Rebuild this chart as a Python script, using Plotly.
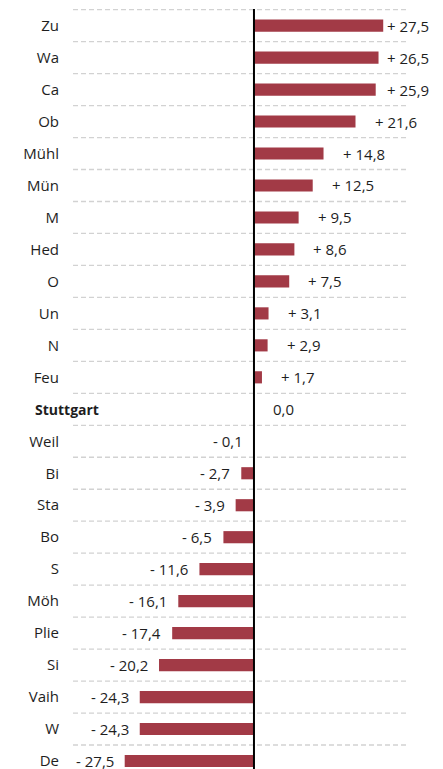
import plotly.graph_objects as go

# Districts, ordered top to bottom, and their change values
districts = ["Zu", "Wa", "Ca", "Ob", "Mühl", "Mün", "M", "Hed", "O", "Un", "N", "Feu",
             "Stuttgart",
             "Weil", "Bi", "Sta", "Bo", "S", "Möh", "Plie", "Si", "Vaih", "W", "De"]
changes = [27.5, 26.5, 25.9, 21.6, 14.8, 12.5, 9.5, 8.6, 7.5, 3.1, 2.9, 1.7,
           0.0,
           -0.1, -2.7, -3.9, -6.5, -11.6, -16.1, -17.4, -20.2, -24.3, -24.3, -27.5]
city_total = "Stuttgart"

BAR_COLOR = "#a23a46"
TEXT_COLOR = "#1e1e1e"
GRID_COLOR = "#d2d2d2"
FONT = "Open Sans, Noto Sans, sans-serif"
FONT_SIZE = 15

W, H = 443, 769
ML, MR, MT, MB = 73, 35, 9, 0
PLOT_W = W - ML - MR
X_MIN, X_MAX = -38.5, 32.77
px_per_unit = PLOT_W / (X_MAX - X_MIN)
zero_px = ML + (0 - X_MIN) * px_per_unit
label_cap_px = 385  # positive labels never start further right than this


def fmt(v):
    s = f"{abs(v):.1f}".replace(".", ",")
    if v > 0:
        return "+ " + s
    if v < 0:
        return "- " + s
    return s


rows = list(range(len(districts)))
ticktext = ["" if d == city_total else d for d in districts]

fig = go.Figure()
fig.add_trace(go.Bar(
    x=changes, y=rows, orientation="h",
    marker=dict(color=BAR_COLOR, line=dict(width=0)),
    width=0.38, hoverinfo="skip",
))

# value labels beside each bar
annotations = []
for i, v in enumerate(changes):
    end_px = zero_px + v * px_per_unit
    if v >= 0:
        shift = min(17, label_cap_px - end_px)
        annotations.append(dict(x=v, y=i, text=fmt(v), showarrow=False,
                                xanchor="left", xshift=shift,
                                font=dict(size=FONT_SIZE, color=TEXT_COLOR, family=FONT)))
    else:
        annotations.append(dict(x=v, y=i, text=fmt(v), showarrow=False,
                                xanchor="right", xshift=-9,
                                font=dict(size=FONT_SIZE, color=TEXT_COLOR, family=FONT)))

# the city-wide row gets a bold, wider label
annotations.append(dict(xref="paper", x=(33 - ML) / PLOT_W, xanchor="left",
                        y=districts.index(city_total), yref="y",
                        text=f"<b>{city_total}</b>", showarrow=False,
                        font=dict(size=14, color=TEXT_COLOR, family=FONT)))

# dashed separators between rows
shapes = []
for i in range(len(districts)):
    shapes.append(dict(type="line", xref="paper", x0=0, x1=1, yref="y",
                       y0=i - 0.5, y1=i - 0.5, layer="below",
                       line=dict(color=GRID_COLOR, width=1.3, dash="5px,3px")))
# zero line on top
shapes.append(dict(type="line", xref="x", x0=0, x1=0, yref="paper", y0=0, y1=1,
                   layer="above", line=dict(color="black", width=2)))

fig.update_layout(
    width=W, height=H,
    margin=dict(l=ML, r=MR, t=MT, b=MB, autoexpand=False),
    paper_bgcolor="white", plot_bgcolor="white",
    showlegend=False,
    annotations=annotations,
    shapes=shapes,
    font=dict(family=FONT, size=FONT_SIZE, color=TEXT_COLOR),
    xaxis=dict(range=[X_MIN, X_MAX], showgrid=False, zeroline=False,
               showticklabels=False, showline=False, ticks="", automargin=False),
    yaxis=dict(range=[len(districts) - 0.75, -0.52], tickmode="array",
               tickvals=rows, ticktext=ticktext, showgrid=False, zeroline=False,
               showline=False, ticks="", ticklabelstandoff=13,
               ticklabeloverflow="allow", automargin=False,
               tickfont=dict(size=FONT_SIZE, color=TEXT_COLOR, family=FONT)),
)

fig.write_html("out.html")
